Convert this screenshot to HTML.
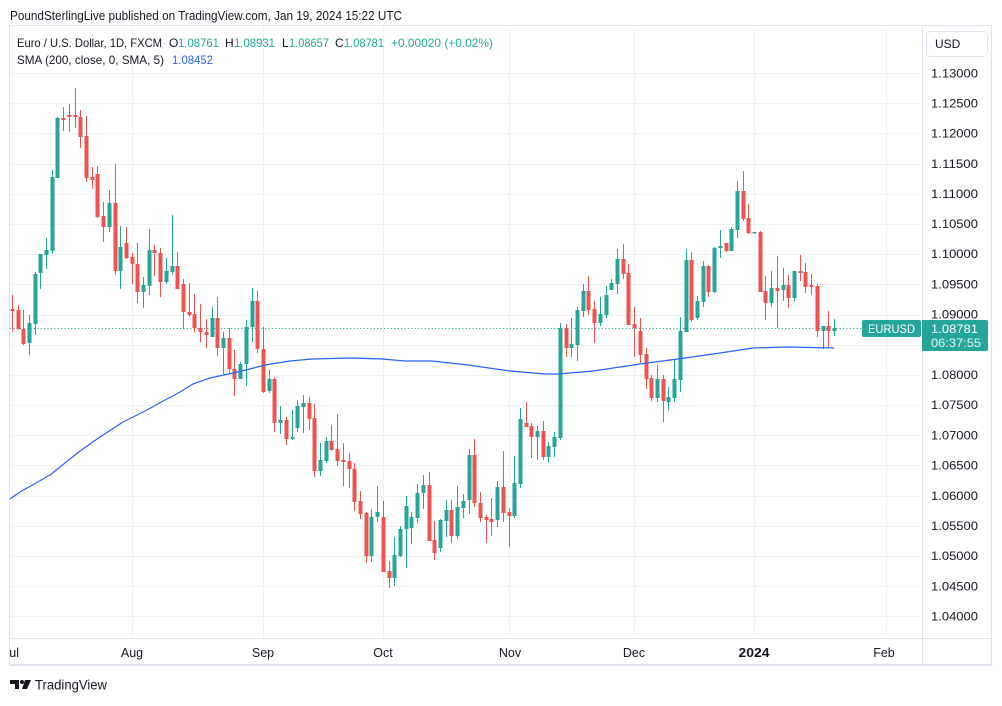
<!DOCTYPE html>
<html><head><meta charset="utf-8"><style>
html,body{margin:0;padding:0;background:#fff;}
body{width:1002px;height:701px;overflow:hidden;}
svg text{font-family:"Liberation Sans",Arial,sans-serif;}
</style></head><body>
<svg width="1002" height="701" viewBox="0 0 1002 701" xmlns="http://www.w3.org/2000/svg">
<rect x="0" y="0" width="1002" height="701" fill="#fff"/>
<defs><clipPath id="pane"><rect x="10" y="26" width="912" height="612"/></clipPath>
<clipPath id="taxis"><rect x="10" y="639" width="912" height="26"/></clipPath></defs>

<!-- header -->
<text x="10" y="20" font-size="12.5" fill="#131722" textLength="392" lengthAdjust="spacingAndGlyphs">PoundSterlingLive published on TradingView.com, Jan 19, 2024 15:22 UTC</text>

<!-- grid -->
<g stroke="#f0f1f3" stroke-width="1" shape-rendering="crispEdges">
<line x1="10" x2="922" y1="73.5" y2="73.5"/><line x1="10" x2="922" y1="103.5" y2="103.5"/><line x1="10" x2="922" y1="133.5" y2="133.5"/><line x1="10" x2="922" y1="164.5" y2="164.5"/><line x1="10" x2="922" y1="194.5" y2="194.5"/><line x1="10" x2="922" y1="224.5" y2="224.5"/><line x1="10" x2="922" y1="254.5" y2="254.5"/><line x1="10" x2="922" y1="284.5" y2="284.5"/><line x1="10" x2="922" y1="315.5" y2="315.5"/><line x1="10" x2="922" y1="345.5" y2="345.5"/><line x1="10" x2="922" y1="375.5" y2="375.5"/><line x1="10" x2="922" y1="405.5" y2="405.5"/><line x1="10" x2="922" y1="435.5" y2="435.5"/><line x1="10" x2="922" y1="465.5" y2="465.5"/><line x1="10" x2="922" y1="496.5" y2="496.5"/><line x1="10" x2="922" y1="526.5" y2="526.5"/><line x1="10" x2="922" y1="556.5" y2="556.5"/><line x1="10" x2="922" y1="586.5" y2="586.5"/><line x1="10" x2="922" y1="616.5" y2="616.5"/>
<line x1="12.5" x2="12.5" y1="26" y2="638"/><line x1="132.5" x2="132.5" y1="26" y2="638"/><line x1="263.5" x2="263.5" y1="26" y2="638"/><line x1="383.5" x2="383.5" y1="26" y2="638"/><line x1="509.5" x2="509.5" y1="26" y2="638"/><line x1="634.5" x2="634.5" y1="26" y2="638"/><line x1="754.5" x2="754.5" y1="26" y2="638"/><line x1="886.5" x2="886.5" y1="26" y2="638"/>
</g>

<!-- frame -->
<g stroke="#e0e3eb" fill="none" shape-rendering="crispEdges">
<rect x="9.5" y="25.5" width="982" height="639"/>
<line x1="9" x2="992" y1="665.5" y2="665.5" stroke-width="1"/>
<line x1="922.5" x2="922.5" y1="25" y2="665"/>
<line x1="9" x2="992" y1="638.5" y2="638.5"/>
</g>

<!-- last price dotted line -->
<line x1="10" x2="862" y1="328.5" y2="328.5" stroke="#26a69a" stroke-width="1" stroke-dasharray="1.2,2.2"/>

<g clip-path="url(#pane)">
<!-- red candles -->
<g fill="#ef5350">
<rect x="12" y="295" width="1" height="37"/><rect x="10.5" y="309" width="4" height="2"/>
<rect x="18" y="305" width="1" height="25"/><rect x="16.5" y="310" width="4" height="19"/>
<rect x="23" y="310" width="1" height="35"/><rect x="21.5" y="329" width="4" height="15"/>
<rect x="63" y="107" width="1" height="24"/><rect x="61.5" y="118" width="4" height="2"/>
<rect x="69" y="104" width="1" height="28"/><rect x="67.5" y="115" width="4" height="2"/>
<rect x="75" y="88" width="1" height="40"/><rect x="73.5" y="115" width="4" height="2"/>
<rect x="80" y="110" width="1" height="38"/><rect x="78.5" y="117" width="4" height="20"/>
<rect x="86" y="116" width="1" height="66"/><rect x="84.5" y="136" width="4" height="42"/>
<rect x="92" y="167" width="1" height="22"/><rect x="90.5" y="177" width="4" height="3"/>
<rect x="97" y="166" width="1" height="52"/><rect x="95.5" y="174" width="4" height="43"/>
<rect x="103" y="202" width="1" height="40"/><rect x="101.5" y="216" width="4" height="11"/>
<rect x="115" y="164" width="1" height="111"/><rect x="113.5" y="203" width="4" height="68"/>
<rect x="126" y="227" width="1" height="32"/><rect x="124.5" y="243" width="4" height="15"/>
<rect x="132" y="253" width="1" height="31"/><rect x="130.5" y="257" width="4" height="7"/>
<rect x="137" y="243" width="1" height="60"/><rect x="135.5" y="264" width="4" height="28"/>
<rect x="154" y="245" width="1" height="31"/><rect x="152.5" y="250" width="4" height="3"/>
<rect x="160" y="248" width="1" height="49"/><rect x="158.5" y="253" width="4" height="29"/>
<rect x="177" y="252" width="1" height="37"/><rect x="175.5" y="266" width="4" height="23"/>
<rect x="183" y="279" width="1" height="50"/><rect x="181.5" y="284" width="4" height="28"/>
<rect x="189" y="283" width="1" height="34"/><rect x="187.5" y="312" width="4" height="3"/>
<rect x="194" y="294" width="1" height="38"/><rect x="192.5" y="314" width="4" height="14"/>
<rect x="200" y="304" width="1" height="38"/><rect x="198.5" y="328" width="4" height="4"/>
<rect x="206" y="319" width="1" height="29"/><rect x="204.5" y="332" width="4" height="3"/>
<rect x="217" y="297" width="1" height="59"/><rect x="215.5" y="318" width="4" height="30"/>
<rect x="229" y="328" width="1" height="45"/><rect x="227.5" y="338" width="4" height="31"/>
<rect x="234" y="350" width="1" height="46"/><rect x="232.5" y="369" width="4" height="10"/>
<rect x="257" y="291" width="1" height="62"/><rect x="255.5" y="301" width="4" height="48"/>
<rect x="263" y="327" width="1" height="66"/><rect x="261.5" y="349" width="4" height="43"/>
<rect x="274" y="377" width="1" height="55"/><rect x="272.5" y="379" width="4" height="44"/>
<rect x="286" y="417" width="1" height="28"/><rect x="284.5" y="420" width="4" height="19"/>
<rect x="309" y="397" width="1" height="33"/><rect x="307.5" y="403" width="4" height="16"/>
<rect x="314" y="404" width="1" height="73"/><rect x="312.5" y="418" width="4" height="53"/>
<rect x="331" y="425" width="1" height="26"/><rect x="329.5" y="441" width="4" height="9"/>
<rect x="337" y="414" width="1" height="52"/><rect x="335.5" y="449" width="4" height="12"/>
<rect x="343" y="443" width="1" height="43"/><rect x="341.5" y="460" width="4" height="2"/>
<rect x="349" y="453" width="1" height="35"/><rect x="347.5" y="461" width="4" height="8"/>
<rect x="354" y="463" width="1" height="48"/><rect x="352.5" y="469" width="4" height="33"/>
<rect x="360" y="491" width="1" height="28"/><rect x="358.5" y="501" width="4" height="13"/>
<rect x="366" y="512" width="1" height="51"/><rect x="364.5" y="513" width="4" height="43"/>
<rect x="383" y="501" width="1" height="71"/><rect x="381.5" y="517" width="4" height="55"/>
<rect x="389" y="561" width="1" height="27"/><rect x="387.5" y="571" width="4" height="7"/>
<rect x="429" y="472" width="1" height="69"/><rect x="427.5" y="485" width="4" height="56"/>
<rect x="434" y="521" width="1" height="39"/><rect x="432.5" y="540" width="4" height="13"/>
<rect x="451" y="500" width="1" height="43"/><rect x="449.5" y="510" width="4" height="26"/>
<rect x="474" y="439" width="1" height="68"/><rect x="472.5" y="455" width="4" height="48"/>
<rect x="480" y="492" width="1" height="30"/><rect x="478.5" y="503" width="4" height="15"/>
<rect x="486" y="515" width="1" height="28"/><rect x="484.5" y="517" width="4" height="3"/>
<rect x="491" y="498" width="1" height="38"/><rect x="489.5" y="519" width="4" height="3"/>
<rect x="503" y="451" width="1" height="71"/><rect x="501.5" y="487" width="4" height="26"/>
<rect x="509" y="508" width="1" height="39"/><rect x="507.5" y="512" width="4" height="4"/>
<rect x="526" y="402" width="1" height="25"/><rect x="524.5" y="423" width="4" height="4"/>
<rect x="531" y="423" width="1" height="35"/><rect x="529.5" y="426" width="4" height="11"/>
<rect x="543" y="421" width="1" height="39"/><rect x="541.5" y="431" width="4" height="26"/>
<rect x="566" y="324" width="1" height="33"/><rect x="564.5" y="328" width="4" height="20"/>
<rect x="588" y="276" width="1" height="39"/><rect x="586.5" y="291" width="4" height="19"/>
<rect x="594" y="301" width="1" height="42"/><rect x="592.5" y="309" width="4" height="14"/>
<rect x="623" y="244" width="1" height="35"/><rect x="621.5" y="259" width="4" height="15"/>
<rect x="628" y="264" width="1" height="61"/><rect x="626.5" y="273" width="4" height="52"/>
<rect x="634" y="307" width="1" height="50"/><rect x="632.5" y="324" width="4" height="4"/>
<rect x="640" y="318" width="1" height="45"/><rect x="638.5" y="331" width="4" height="24"/>
<rect x="646" y="348" width="1" height="41"/><rect x="644.5" y="354" width="4" height="25"/>
<rect x="651" y="375" width="1" height="26"/><rect x="649.5" y="378" width="4" height="20"/>
<rect x="663" y="375" width="1" height="47"/><rect x="661.5" y="379" width="4" height="22"/>
<rect x="691" y="252" width="1" height="70"/><rect x="689.5" y="260" width="4" height="60"/>
<rect x="708" y="265" width="1" height="32"/><rect x="706.5" y="266" width="4" height="26"/>
<rect x="726" y="243" width="1" height="9"/><rect x="724.5" y="243" width="4" height="8"/>
<rect x="743" y="171" width="1" height="50"/><rect x="741.5" y="191" width="4" height="28"/>
<rect x="748" y="204" width="1" height="30"/><rect x="746.5" y="218" width="4" height="15"/>
<rect x="760" y="231" width="1" height="61"/><rect x="758.5" y="232" width="4" height="60"/>
<rect x="765" y="276" width="1" height="44"/><rect x="763.5" y="291" width="4" height="12"/>
<rect x="777" y="256" width="1" height="72"/><rect x="775.5" y="288" width="4" height="3"/>
<rect x="788" y="275" width="1" height="33"/><rect x="786.5" y="285" width="4" height="13"/>
<rect x="800" y="255" width="1" height="26"/><rect x="798.5" y="271" width="4" height="2"/>
<rect x="805" y="263" width="1" height="30"/><rect x="803.5" y="272" width="4" height="15"/>
<rect x="811" y="274" width="1" height="21"/><rect x="809.5" y="285" width="4" height="2"/>
<rect x="817" y="284" width="1" height="53"/><rect x="815.5" y="286" width="4" height="45"/>
<rect x="828" y="311" width="1" height="36"/><rect x="826.5" y="326" width="4" height="5"/>
</g>
<!-- green candles -->
<g fill="#26a69a">
<rect x="29" y="315" width="1" height="40"/><rect x="27.5" y="323" width="4" height="20"/>
<rect x="35" y="272" width="1" height="63"/><rect x="33.5" y="274" width="4" height="50"/>
<rect x="40" y="254" width="1" height="35"/><rect x="38.5" y="254" width="4" height="19"/>
<rect x="46" y="238" width="1" height="31"/><rect x="44.5" y="250" width="4" height="5"/>
<rect x="52" y="170" width="1" height="84"/><rect x="50.5" y="177" width="4" height="74"/>
<rect x="57" y="117" width="1" height="61"/><rect x="55.5" y="118" width="4" height="60"/>
<rect x="109" y="190" width="1" height="42"/><rect x="107.5" y="203" width="4" height="24"/>
<rect x="120" y="226" width="1" height="63"/><rect x="118.5" y="247" width="4" height="24"/>
<rect x="143" y="277" width="1" height="31"/><rect x="141.5" y="285" width="4" height="7"/>
<rect x="149" y="229" width="1" height="66"/><rect x="147.5" y="250" width="4" height="36"/>
<rect x="166" y="258" width="1" height="26"/><rect x="164.5" y="271" width="4" height="11"/>
<rect x="172" y="215" width="1" height="60"/><rect x="170.5" y="266" width="4" height="6"/>
<rect x="212" y="307" width="1" height="30"/><rect x="210.5" y="318" width="4" height="19"/>
<rect x="223" y="332" width="1" height="42"/><rect x="221.5" y="338" width="4" height="10"/>
<rect x="240" y="362" width="1" height="17"/><rect x="238.5" y="364" width="4" height="15"/>
<rect x="246" y="320" width="1" height="66"/><rect x="244.5" y="327" width="4" height="37"/>
<rect x="252" y="288" width="1" height="54"/><rect x="250.5" y="301" width="4" height="26"/>
<rect x="269" y="370" width="1" height="23"/><rect x="267.5" y="379" width="4" height="12"/>
<rect x="280" y="406" width="1" height="28"/><rect x="278.5" y="420" width="4" height="3"/>
<rect x="292" y="410" width="1" height="30"/><rect x="290.5" y="437" width="4" height="2"/>
<rect x="297" y="400" width="1" height="32"/><rect x="295.5" y="406" width="4" height="22"/>
<rect x="303" y="395" width="1" height="38"/><rect x="301.5" y="403" width="4" height="4"/>
<rect x="320" y="443" width="1" height="33"/><rect x="318.5" y="460" width="4" height="11"/>
<rect x="326" y="437" width="1" height="26"/><rect x="324.5" y="441" width="4" height="20"/>
<rect x="371" y="509" width="1" height="53"/><rect x="369.5" y="517" width="4" height="39"/>
<rect x="377" y="486" width="1" height="36"/><rect x="375.5" y="512" width="4" height="5"/>
<rect x="394" y="537" width="1" height="49"/><rect x="392.5" y="555" width="4" height="23"/>
<rect x="400" y="526" width="1" height="31"/><rect x="398.5" y="529" width="4" height="27"/>
<rect x="406" y="496" width="1" height="72"/><rect x="404.5" y="506" width="4" height="23"/>
<rect x="411" y="512" width="1" height="32"/><rect x="409.5" y="517" width="4" height="11"/>
<rect x="417" y="484" width="1" height="39"/><rect x="415.5" y="493" width="4" height="25"/>
<rect x="423" y="475" width="1" height="34"/><rect x="421.5" y="485" width="4" height="8"/>
<rect x="440" y="519" width="1" height="33"/><rect x="438.5" y="520" width="4" height="28"/>
<rect x="446" y="500" width="1" height="37"/><rect x="444.5" y="510" width="4" height="11"/>
<rect x="457" y="486" width="1" height="53"/><rect x="455.5" y="507" width="4" height="29"/>
<rect x="463" y="494" width="1" height="24"/><rect x="461.5" y="501" width="4" height="7"/>
<rect x="469" y="449" width="1" height="65"/><rect x="467.5" y="455" width="4" height="45"/>
<rect x="497" y="481" width="1" height="46"/><rect x="495.5" y="487" width="4" height="33"/>
<rect x="514" y="456" width="1" height="62"/><rect x="512.5" y="483" width="4" height="33"/>
<rect x="520" y="408" width="1" height="80"/><rect x="518.5" y="419" width="4" height="65"/>
<rect x="537" y="426" width="1" height="34"/><rect x="535.5" y="431" width="4" height="6"/>
<rect x="548" y="442" width="1" height="20"/><rect x="546.5" y="446" width="4" height="11"/>
<rect x="554" y="432" width="1" height="25"/><rect x="552.5" y="437" width="4" height="10"/>
<rect x="560" y="323" width="1" height="117"/><rect x="558.5" y="328" width="4" height="110"/>
<rect x="571" y="318" width="1" height="39"/><rect x="569.5" y="344" width="4" height="4"/>
<rect x="577" y="307" width="1" height="54"/><rect x="575.5" y="310" width="4" height="35"/>
<rect x="583" y="284" width="1" height="33"/><rect x="581.5" y="291" width="4" height="20"/>
<rect x="600" y="297" width="1" height="29"/><rect x="598.5" y="314" width="4" height="9"/>
<rect x="606" y="286" width="1" height="32"/><rect x="604.5" y="295" width="4" height="20"/>
<rect x="611" y="279" width="1" height="11"/><rect x="609.5" y="283" width="4" height="7"/>
<rect x="617" y="249" width="1" height="45"/><rect x="615.5" y="259" width="4" height="25"/>
<rect x="657" y="365" width="1" height="37"/><rect x="655.5" y="379" width="4" height="19"/>
<rect x="668" y="387" width="1" height="24"/><rect x="666.5" y="397" width="4" height="5"/>
<rect x="674" y="359" width="1" height="43"/><rect x="672.5" y="379" width="4" height="19"/>
<rect x="680" y="317" width="1" height="75"/><rect x="678.5" y="331" width="4" height="49"/>
<rect x="686" y="249" width="1" height="83"/><rect x="684.5" y="260" width="4" height="72"/>
<rect x="697" y="296" width="1" height="24"/><rect x="695.5" y="301" width="4" height="17"/>
<rect x="703" y="261" width="1" height="46"/><rect x="701.5" y="266" width="4" height="36"/>
<rect x="714" y="247" width="1" height="46"/><rect x="712.5" y="248" width="4" height="44"/>
<rect x="720" y="230" width="1" height="28"/><rect x="718.5" y="246" width="4" height="2"/>
<rect x="731" y="227" width="1" height="24"/><rect x="729.5" y="229" width="4" height="22"/>
<rect x="737" y="181" width="1" height="57"/><rect x="735.5" y="191" width="4" height="39"/>
<rect x="752.5" y="232" width="4" height="1.5"/>
<rect x="771" y="271" width="1" height="36"/><rect x="769.5" y="288" width="4" height="15"/>
<rect x="783" y="268" width="1" height="33"/><rect x="781.5" y="285" width="4" height="5"/>
<rect x="794" y="271" width="1" height="30"/><rect x="792.5" y="271" width="4" height="27"/>
<rect x="823" y="326" width="1" height="23"/><rect x="821.5" y="326" width="4" height="5"/>
<rect x="834" y="319" width="1" height="17"/><rect x="832.5" y="328" width="4" height="3"/>
</g>

<!-- SMA 200 -->
<polyline fill="none" stroke="#2962ff" stroke-width="1.2" stroke-linejoin="round" points="10,499 20,492 50,475 80,451 100,437 123,422 147,410 165,400 180,392 193,384 210,378 233,373 250,369 265,365 290,361 312,359 352,358 382,359 405,361 432,361 468,365 510,371 545,374 558,374 593,371 640,364 685,358 720,353 753,348 787,347 834,348"/>
</g>

<!-- legend -->
<g font-size="12">
<text x="17" y="47" fill="#131722" textLength="145" lengthAdjust="spacingAndGlyphs">Euro / U.S. Dollar, 1D, FXCM</text>
<text x="169" y="47" fill="#131722">O</text><text x="178" y="47" fill="#22ab94" textLength="41" lengthAdjust="spacingAndGlyphs">1.08761</text>
<text x="225" y="47" fill="#131722">H</text><text x="234" y="47" fill="#22ab94" textLength="41" lengthAdjust="spacingAndGlyphs">1.08931</text>
<text x="282" y="47" fill="#131722">L</text><text x="289" y="47" fill="#22ab94" textLength="40" lengthAdjust="spacingAndGlyphs">1.08657</text>
<text x="335" y="47" fill="#131722">C</text><text x="344" y="47" fill="#22ab94" textLength="40" lengthAdjust="spacingAndGlyphs">1.08781</text>
<text x="391" y="47" fill="#22ab94" textLength="102" lengthAdjust="spacingAndGlyphs">+0.00020 (+0.02%)</text>
<text x="17" y="64" fill="#131722" textLength="147" lengthAdjust="spacingAndGlyphs">SMA (200, close, 0, SMA, 5)</text>
<text x="172" y="64" fill="#2962ff" textLength="41" lengthAdjust="spacingAndGlyphs">1.08452</text>
</g>

<!-- price axis -->
<rect x="926.5" y="31.5" width="61" height="25" rx="4" fill="#fff" stroke="#e0e3eb"/>
<text x="935" y="48" font-size="12" fill="#131722">USD</text>
<g font-size="12" fill="#131722">
<text x="931" y="77.5" textLength="47" lengthAdjust="spacingAndGlyphs">1.13000</text>
<text x="931" y="107.5" textLength="47" lengthAdjust="spacingAndGlyphs">1.12500</text>
<text x="931" y="137.5" textLength="47" lengthAdjust="spacingAndGlyphs">1.12000</text>
<text x="931" y="168" textLength="47" lengthAdjust="spacingAndGlyphs">1.11500</text>
<text x="931" y="198" textLength="47" lengthAdjust="spacingAndGlyphs">1.11000</text>
<text x="931" y="228" textLength="47" lengthAdjust="spacingAndGlyphs">1.10500</text>
<text x="931" y="258" textLength="47" lengthAdjust="spacingAndGlyphs">1.10000</text>
<text x="931" y="288.5" textLength="47" lengthAdjust="spacingAndGlyphs">1.09500</text>
<text x="931" y="318.5" textLength="47" lengthAdjust="spacingAndGlyphs">1.09000</text>
<text x="931" y="379" textLength="47" lengthAdjust="spacingAndGlyphs">1.08000</text>
<text x="931" y="409" textLength="47" lengthAdjust="spacingAndGlyphs">1.07500</text>
<text x="931" y="439.5" textLength="47" lengthAdjust="spacingAndGlyphs">1.07000</text>
<text x="931" y="469.5" textLength="47" lengthAdjust="spacingAndGlyphs">1.06500</text>
<text x="931" y="500" textLength="47" lengthAdjust="spacingAndGlyphs">1.06000</text>
<text x="931" y="530" textLength="47" lengthAdjust="spacingAndGlyphs">1.05500</text>
<text x="931" y="560" textLength="47" lengthAdjust="spacingAndGlyphs">1.05000</text>
<text x="931" y="590.5" textLength="47" lengthAdjust="spacingAndGlyphs">1.04500</text>
<text x="931" y="620.5" textLength="47" lengthAdjust="spacingAndGlyphs">1.04000</text>
</g>

<!-- last price labels -->
<rect x="862" y="320" width="59" height="17" rx="2" fill="#26a69a"/>
<text x="891.5" y="333" font-size="12" fill="#fff" text-anchor="middle" textLength="47" lengthAdjust="spacingAndGlyphs">EURUSD</text>
<path d="M922,320 H986 a2,2 0 0 1 2,2 V349 a2,2 0 0 1 -2,2 H922 Z" fill="#26a69a"/>
<text x="931" y="333" font-size="12" fill="#fff" textLength="47" lengthAdjust="spacingAndGlyphs">1.08781</text>
<text x="931" y="347" font-size="12" fill="#e4f4f2" textLength="50" lengthAdjust="spacingAndGlyphs">06:37:55</text>

<!-- time axis -->
<g font-size="12.5" fill="#131722" text-anchor="middle">
<g clip-path="url(#taxis)"><text x="11" y="657">Jul</text></g>
<text x="132" y="657">Aug</text>
<text x="263" y="657">Sep</text>
<text x="383" y="657">Oct</text>
<text x="510" y="657">Nov</text>
<text x="634" y="657">Dec</text>
<text x="754" y="657" font-weight="bold" textLength="31" lengthAdjust="spacingAndGlyphs">2024</text>
<text x="884" y="657">Feb</text>
</g>

<!-- TradingView logo -->
<g fill="#131722">
<path d="M10,680 h9 v9 h-4 v-5 h-5 z"/>
<circle cx="22" cy="682" r="2"/>
<path d="M25,680 h6 l-4,9 h-5 z"/>
</g>
<text x="35" y="689.5" font-size="14" fill="#131722" textLength="72" lengthAdjust="spacingAndGlyphs">TradingView</text>
</svg>
</body></html>
